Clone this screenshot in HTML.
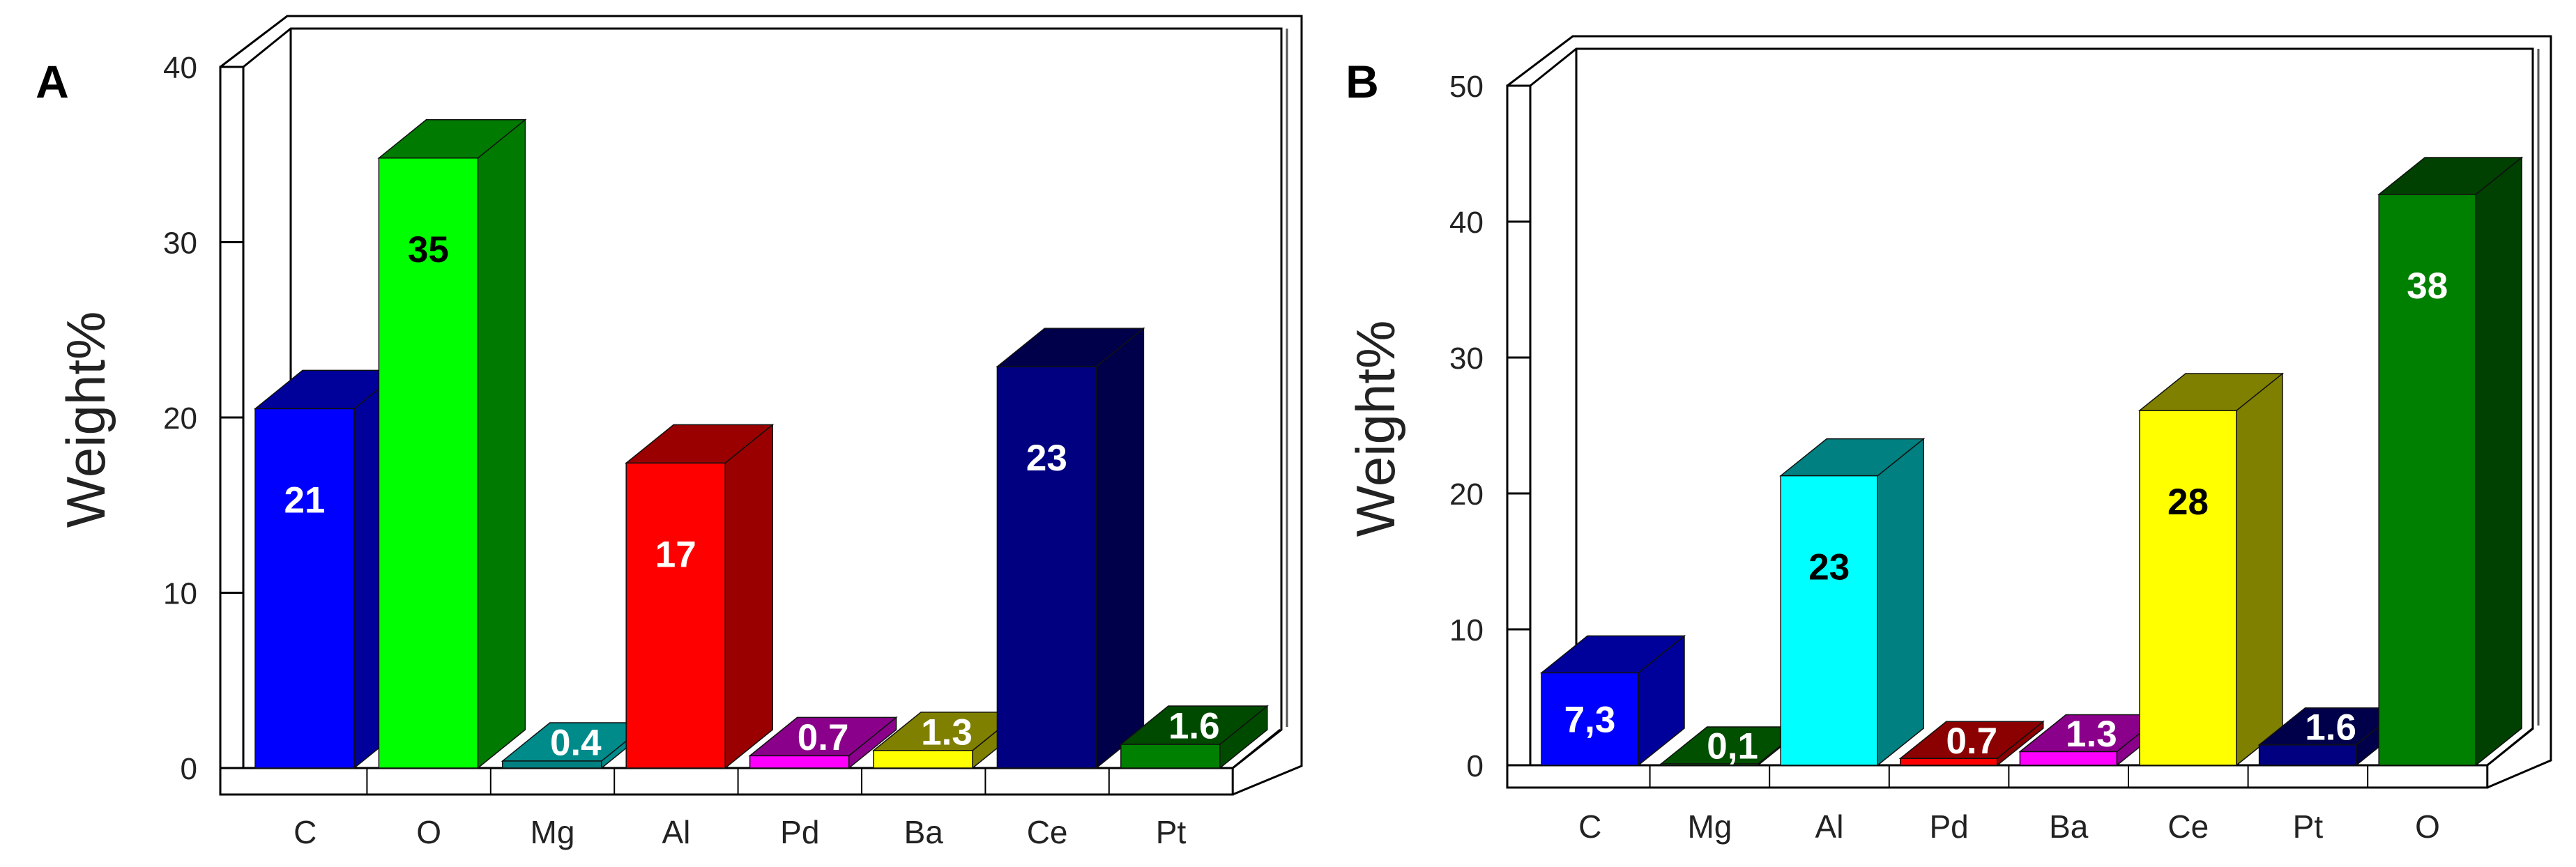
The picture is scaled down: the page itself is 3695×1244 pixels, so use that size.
<!DOCTYPE html>
<html><head><meta charset="utf-8"><style>
html,body{margin:0;padding:0;background:#fff;}
svg{display:block;}
</style></head><body>
<svg id="chart" width="3695" height="1244" viewBox="0 0 3695 1244" xmlns="http://www.w3.org/2000/svg">
<text x="75" y="140" font-family="Liberation Sans, sans-serif" font-weight="bold" font-size="66" text-anchor="middle" fill="#000">A</text>
<text x="1954" y="140" font-family="Liberation Sans, sans-serif" font-weight="bold" font-size="66" text-anchor="middle" fill="#000">B</text>
<text transform="translate(150,602) rotate(-90)" font-family="Liberation Sans, sans-serif" font-size="78" text-anchor="middle" fill="#222">Weight%</text>
<text transform="translate(2000,615) rotate(-90)" font-family="Liberation Sans, sans-serif" font-size="78" text-anchor="middle" fill="#222">Weight%</text>
</svg>
<script>
// Panel A data
const catsA = ["C","O","Mg","Al","Pd","Ba","Ce","Pt"];
const valsA = [20.5, 34.8, 0.4, 17.4, 0.7, 1.0, 22.9, 1.35];
const labelsA = ["21","35","0.4","17","0.7","1.3","23","1.6"];
const labelColorsA = ["#fff","#000","#fff","#fff","#fff","#fff","#fff","#fff"];
const frontA = ["#0000ff","#00ff00","#008080","#ff0000","#ff00ff","#ffff00","#000080","#008000"];
const darkA = ["#00009a","#007a00","#008b8b","#9a0000","#8b008b","#808000","#00004a","#004a00"];
const ticksA = [0,10,20,30,40];
// Panel B data
const catsB = ["C","Mg","Al","Pd","Ba","Ce","Pt","O"];
const valsB = [6.8, 0.1, 21.3, 0.5, 1.0, 26.1, 1.5, 42.0];
const labelsB = ["7,3","0,1","23","0.7","1.3","28","1.6","38"];
const labelColorsB = ["#fff","#fff","#000","#fff","#fff","#000","#fff","#fff"];
const frontB = ["#0000ff","#008000","#00ffff","#ff0000","#ff00ff","#ffff00","#000080","#008000"];
const darkB = ["#00009a","#005000","#008080","#8b0000","#8b008b","#808000","#00004a","#004000"];
const ticksB = [0,10,20,30,40,50];

const NS = "http://www.w3.org/2000/svg";
const svg = document.getElementById("chart");
function mk(tag, attrs, parent){
  const e = document.createElementNS(NS, tag);
  for (const k in attrs) e.setAttribute(k, attrs[k]);
  (parent||svg).appendChild(e);
  return e;
}
function draw(P){
  const g = mk("g", {});
  
  
  const y = v => P.y0 - (v - 0) / P.max * (P.y0 - P.yTop);
  const dx = P.dx, dy = P.dy;
  const floorEnd = P.slot0 + P.cats.length * P.slotW;
  const ln = {stroke:"#000","stroke-width":3,fill:"none"};
  const outer = mk("path", Object.assign({d:`M${P.wallOut},${P.floorBot} L${P.wallOut},${P.yTop} L${P.wallOut+dx+28},${P.yTop+dy-18} L${P.backOutR},${P.yTop+dy-18} L${P.backOutR},${P.floorBot+dy+14} L${floorEnd},${P.floorBot}`}, ln), g);
  
  
  const back = mk("path", Object.assign({d:`M${P.slot0},${P.yTop} L${P.slot0+dx},${P.yTop+dy} L${P.backR},${P.yTop+dy} L${P.backR},${P.y0+dy} L${floorEnd},${P.y0}`}, ln), g);
  
  
  mk("line", {x1:P.slot0+dx,y1:P.yTop+dy,x2:P.slot0+dx,y2:P.y0+dy,stroke:"#000","stroke-width":3}, g);
  mk("line", {x1:P.backR+8,y1:P.yTop+dy,x2:P.backR+8,y2:P.y0+dy-4,stroke:"#555","stroke-width":3}, g);
  const side = mk("rect", {x:P.wallOut,y:P.yTop,width:P.slot0-P.wallOut,height:P.y0-P.yTop,fill:"#fff",stroke:"#000","stroke-width":3}, g);
  
  
  const floor = mk("rect", {x:P.wallOut,y:P.y0,width:floorEnd-P.wallOut,height:P.floorBot-P.y0,fill:"#fff",stroke:"#000","stroke-width":3}, g);
  
  
  mk("line", {x1:floorEnd,y1:P.y0,x2:floorEnd+dx,y2:P.y0+dy,stroke:"#000","stroke-width":3}, g);
  for (let i=1;i<P.cats.length;i++){
    const x = P.slot0 + i*P.slotW;
    mk("line", {x1:x,y1:P.y0,x2:x,y2:P.floorBot,stroke:"#000","stroke-width":2}, g);
  }
  P.ticks.forEach(t => {
    const ty = y(t);
    mk("line", {x1:P.wallOut,y1:ty,x2:P.slot0,y2:ty,stroke:"#000","stroke-width":3}, g);
    const tl = mk("text", {x:P.tickX,y:ty+16,"text-anchor":"end","font-family":"Liberation Sans, sans-serif","font-size":44,fill:"#222"}, g);
    tl.textContent = t;
    
    
  });
  P.vals.forEach((v,i) => {
    const x0 = P.slot0 + i*P.slotW + P.barOff;
    const w = P.barW;
    const top = y(v);
    const bg = mk("g", {}, g);
    
    
    mk("polygon", {points:`${x0+w},${top} ${x0+w+dx},${top+dy} ${x0+w+dx},${P.y0+dy} ${x0+w},${P.y0}`, fill:P.dark[i], stroke:"#111","stroke-width":1.5}, bg);
    mk("polygon", {points:`${x0},${top} ${x0+dx},${top+dy} ${x0+w+dx},${top+dy} ${x0+w},${top}`, fill:P.dark[i], stroke:"#111","stroke-width":1.5}, bg);
    mk("rect", {x:x0,y:top,width:w,height:P.y0-top,fill:P.front[i],stroke:"#111","stroke-width":1.5}, bg);
    let lx, ly;
    if (v < 3){ lx = x0 + w/2 + dx/2; ly = top + dy/2; }
    else if (v < 10){ lx = x0 + w/2; ly = (top + P.y0)/2; }
    else { lx = x0 + w/2; ly = top + 130; }
    const vl = mk("text", {x:lx,y:ly+19,"text-anchor":"middle","font-family":"Liberation Sans, sans-serif","font-weight":"bold","font-size":53,fill:P.lc[i]}, g);
    vl.textContent = P.labels[i];
    
    
    const cl = mk("text", {x:P.slot0 + (i+0.5)*P.slotW,y:P.catY,"text-anchor":"middle","font-family":"Liberation Sans, sans-serif","font-size":46,fill:"#222"}, g);
    cl.textContent = P.cats[i];
    
    
  });
}
draw({name:"panel-a-chart",cats:catsA,vals:valsA,labels:labelsA,lc:labelColorsA,front:frontA,dark:darkA,ticks:ticksA,max:40,
  y0:1102,yTop:96,floorBot:1140,wallOut:316,slot0:349,slotW:177.4,barOff:17,barW:142,dx:68,dy:-55,backR:1838,backOutR:1867,tickX:283,catY:1210});
draw({name:"panel-b-chart",cats:catsB,vals:valsB,labels:labelsB,lc:labelColorsB,front:frontB,dark:darkB,ticks:ticksB,max:50,
  y0:1098,yTop:123,floorBot:1130,wallOut:2162,slot0:2195,slotW:171.6,barOff:16,barW:139,dx:66,dy:-53,backR:3633,backOutR:3659,tickX:2128,catY:1202});
</script>
</body></html>
